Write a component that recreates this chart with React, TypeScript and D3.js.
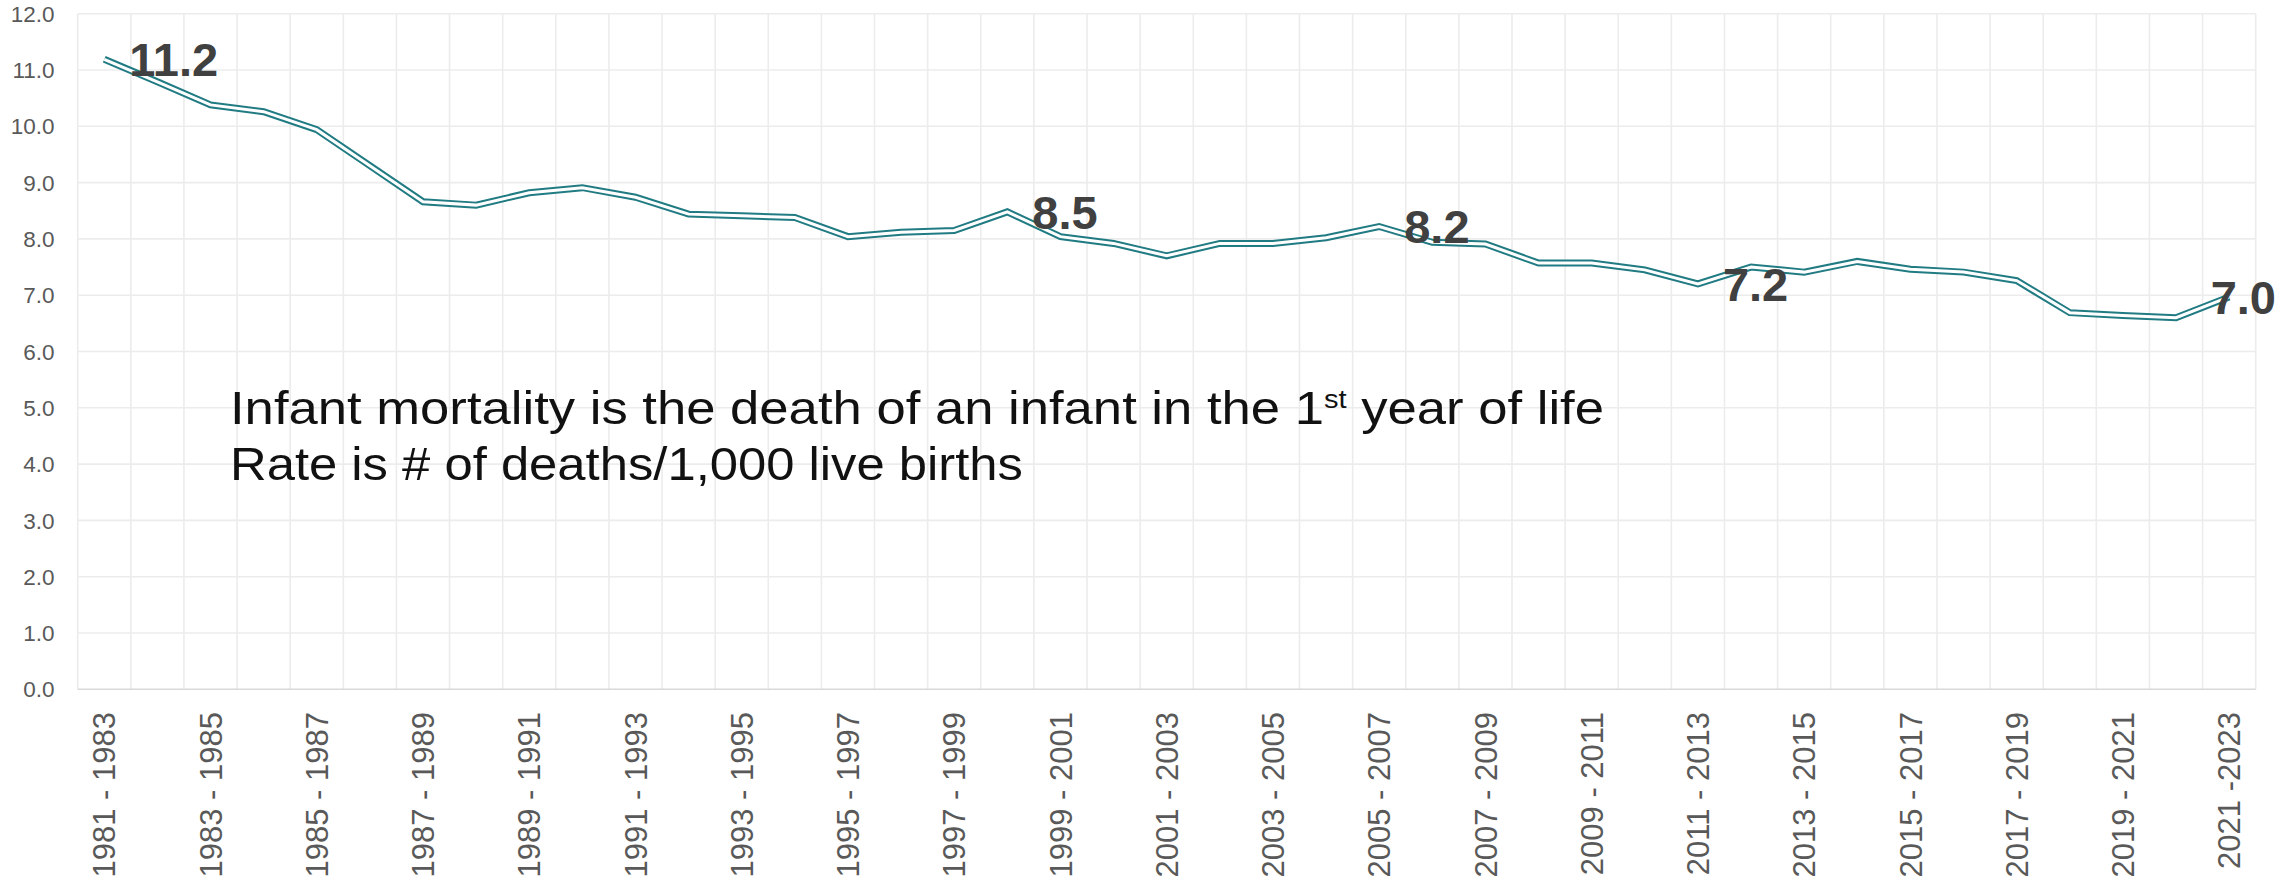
import React from 'react';
import * as d3 from 'd3';

const categories: string[] = [
  '1981 - 1983', '1982 - 1984', '1983 - 1985', '1984 - 1986', '1985 - 1987',
  '1986 - 1988', '1987 - 1989', '1988 - 1990', '1989 - 1991', '1990 - 1992',
  '1991 - 1993', '1992 - 1994', '1993 - 1995', '1994 - 1996', '1995 - 1997',
  '1996 - 1998', '1997 - 1999', '1998 - 2000', '1999 - 2001', '2000 - 2002',
  '2001 - 2003', '2002 - 2004', '2003 - 2005', '2004 - 2006', '2005 - 2007',
  '2006 - 2008', '2007 - 2009', '2008 - 2010', '2009 - 2011', '2010 - 2012',
  '2011 - 2013', '2012 - 2014', '2013 - 2015', '2014 - 2016', '2015 - 2017',
  '2016 - 2018', '2017 - 2019', '2018 - 2020', '2019 - 2021', '2020 - 2022',
  '2021 -2023',
];

const rates: number[] = [
  11.19, 10.79, 10.38, 10.26, 9.94, 9.3, 8.66, 8.6, 8.82, 8.91,
  8.74, 8.44, 8.41, 8.38, 8.04, 8.12, 8.15, 8.48, 8.04, 7.92,
  7.7, 7.92, 7.92, 8.02, 8.22, 7.94, 7.91, 7.57, 7.57, 7.45,
  7.2, 7.5, 7.41, 7.6, 7.46, 7.41, 7.26, 6.69, 6.64, 6.6,
  6.97,
];

const labelIndices: number[] = [0, 17, 24, 30, 40];
const yTicks: number[] = [0, 1, 2, 3, 4, 5, 6, 7, 8, 9, 10, 11, 12];

const noteLine1a = 'Infant mortality is the death of an infant in the 1';
const noteSup = 'st';
const noteLine1b = ' year of life';
const noteLine2 = 'Rate is # of deaths/1,000 live births';

const W = 2280;
const H = 882;
const M = { left: 77.7, right: 2255.7, top: 13.7, bottom: 689.3 };
const TEAL = '#217b83';
const FONT = '"Liberation Sans", Arial, sans-serif';

export default function App() {
  const x = d3.scaleBand<string>().domain(categories).range([M.left, M.right]).padding(0);
  const y = d3.scaleLinear().domain([0, 12]).range([M.bottom, M.top]);
  const cx = (i: number) => (x(categories[i]) as number) + x.bandwidth() / 2;
  const line = d3.line<number>().x((_, i) => cx(i)).y((d) => y(d));
  const path = line(rates) || '';
  const fmt = d3.format('.1f');
  const labelFont = 47;
  const labelW = (s: string) => s.length * 0.556 * labelFont - (s.includes('.') ? 0.278 * labelFont : 0);

  const vLines = d3.range(categories.length + 1).map((i) => M.left + i * x.step());

  return (
    <svg width={W} height={H} style={{ position: 'absolute', left: 0, top: 0, background: '#fff' }}>
      <rect x={0} y={0} width={W} height={H} fill="#fff" />
      {/* gridlines */}
      {yTicks.filter((t) => t > 0).map((t) => (
        <line key={'h' + t} x1={M.left} x2={M.right} y1={y(t)} y2={y(t)} stroke="#ececec" strokeWidth={1.6} />
      ))}
      {vLines.map((vx, i) => (
        <line key={'v' + i} x1={vx} x2={vx} y1={M.top} y2={M.bottom} stroke="#ececec" strokeWidth={1.6} />
      ))}
      <line x1={M.left} x2={M.right} y1={y(0)} y2={y(0)} stroke="#d9d9d9" strokeWidth={1.6} />

      {/* y axis labels */}
      {yTicks.map((t) => (
        <text key={'yl' + t} x={54.5} y={y(t)} dy="0.36em" textAnchor="end" fontFamily={FONT} fontSize={22.5} fill="#595959">
          {fmt(t)}
        </text>
      ))}

      {/* x axis labels */}
      {categories.map((c, i) =>
        i % 2 === 0 ? (
          <text
            key={'xl' + i}
            transform={`translate(${cx(i)},712) rotate(-90)`}
            dy="0.36em"
            textAnchor="end"
            fontFamily={FONT}
            fontSize={31}
            fill="#595959"
          >
            {c}
          </text>
        ) : null
      )}

      {/* annotation */}
      <text x={230} y={424} fontFamily={FONT} fontSize={47} fill="#111" textLength={1374} lengthAdjust="spacingAndGlyphs">
        {noteLine1a}
        <tspan fontSize={26} dy={-16}>{noteSup}</tspan>
        <tspan fontSize={47} dy={16}>{noteLine1b}</tspan>
      </text>
      <text x={230} y={480} fontFamily={FONT} fontSize={47} fill="#111" textLength={793} lengthAdjust="spacingAndGlyphs">
        {noteLine2}
      </text>

      {/* double line */}
      <path d={path} fill="none" stroke={TEAL} strokeWidth={7} strokeLinejoin="miter" />
      <path d={path} fill="none" stroke="#fff" strokeWidth={3} strokeLinejoin="miter" />

      {/* data labels */}
      {labelIndices.map((i) => {
        const s = fmt(rates[i]);
        const w = labelW(s);
        let lx = cx(i) + 25;
        if (lx + w > W - 4) lx = W - 4 - w;
        return (
          <text key={'dl' + i} x={lx} y={y(rates[i])} dy="0.36em" fontFamily={FONT} fontWeight="bold" fontSize={labelFont} fill="#404040">
            {s}
          </text>
        );
      })}
    </svg>
  );
}
